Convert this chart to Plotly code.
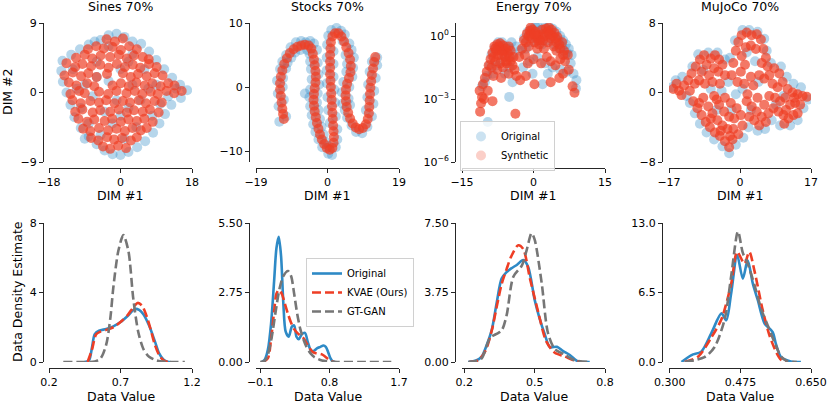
import plotly.graph_objects as go

BLUE = "#2E8AC6"
RED = "#EE3E25"
GRAY = "#767676"
FONT = "DejaVu Sans"
W, H = 830, 404

# ---------------- top row: 2-D embeddings ----------------
sines_orig = [(-5.0, 6.8), (-3.0, 7.4), (-1.0, 7.6), (1.0, 7.2), (3.0, 6.6), (5.2, 6.3), (7.2, 5.3), (9.0, 4.2),
              (11.0, 3.0), (13.0, 1.9), (15.0, 1.0), (16.8, 0.3), (15.2, -0.7), (12.8, -1.6), (11.2, -2.8),
              (9.8, -4.0), (8.2, -5.2), (6.2, -6.3), (4.2, -7.1), (2.0, -7.7), (0.0, -8.1), (-2.0, -8.0),
              (-4.0, -7.5), (-6.0, -6.7), (-8.0, -5.7), (-10.0, -4.6), (-11.6, -3.2), (-12.6, -1.6),
              (-13.6, 0.0), (-14.5, 1.4), (-14.9, 2.8), (-14.6, 4.1), (-12.4, 4.9), (-10.2, 5.6), (-8.0, 6.2),
              (-6.5, 6.6), (-12, 3), (-9, 1), (-6, 4), (-3, 1.5), (0, 3), (3, 5), (6, 3), (9, 1), (12, -0.5),
              (-10, -2), (-7, -0.5), (-4, -2.5), (-1, -1), (2, -2), (5, -1), (8, -3), (-8, -4), (-5, -5.5),
              (-2, -4), (1, -6), (4, -4.5), (-11, 0.5), (-3, 6), (2, 4), (7, 0.5), (10, -1.5), (-6, 2),
              (0, -3), (3, 1), (-9, -6), (14, 0.5)]
sines_syn = [(-3.5, 6.9), (-1.4, 6.6), (0.6, 7.0),
             (-8.2, 5.6), (-6.1, 6.0), (-4.2, 5.7), (-2.0, 5.9), (0.1, 5.5), (2.2, 6.0), (4.1, 5.6),
             (-11.2, 4.5), (-9.0, 4.9), (-7.1, 4.4), (-5.0, 4.8), (-2.6, 4.6), (-0.4, 4.9), (1.6, 4.4),
             (3.4, 4.8), (5.6, 4.6), (7.1, 4.3),
             (-13.6, 3.8), (-11.4, 3.3), (-9.6, 3.7), (-7.4, 3.4), (-5.1, 3.6), (-3.0, 3.2), (-0.9, 3.7),
             (1.1, 3.3), (3.1, 3.6), (5.0, 3.2), (7.2, 3.7), (9.1, 3.3),
             (-14.1, 2.2), (-12.0, 2.6), (-9.9, 2.1), (-8.1, 2.5), (-6.0, 2.0), (-3.4, 2.4), (0.6, 2.5),
             (2.6, 2.0), (4.4, 2.4), (6.6, 2.1), (8.6, 2.5), (10.6, 2.2),
             (-13.0, 1.3), (-11.1, 0.9), (-8.4, 1.2), (-6.6, 0.8), (-2.0, 0.9), (0.1, 1.2), (2.1, 0.8),
             (4.0, 1.3), (6.1, 0.9), (8.0, 1.2), (10.1, 0.8), (12.0, 1.2), (13.6, 0.9),
             (-12.6, -0.2), (-10.4, 0.2), (-9.0, -0.1), (-5.4, 0.1), (-3.1, -0.2), (-1.0, 0.2), (1.5, -0.1),
             (3.6, 0.2), (5.5, -0.2), (7.6, 0.1), (9.4, -0.2), (11.6, 0.2), (13.5, -0.1), (15.4, 0.2),
             (-12.1, -1.0), (-10.0, -1.4), (-7.6, -1.1), (-5.4, -1.3), (-3.6, -1.0), (-1.5, -1.4), (0.6, -1.1),
             (2.4, -1.3), (4.6, -1.0), (6.4, -1.4), (8.6, -1.1), (10.4, -1.3),
             (-11.4, -2.5), (-9.6, -2.2), (-7.0, -2.6), (-5.1, -2.3), (-2.6, -2.5), (-0.4, -2.2), (1.6, -2.6),
             (3.4, -2.3), (5.6, -2.5), (7.4, -2.2), (9.6, -2.6),
             (-10.6, -3.4), (-8.4, -3.8), (-6.6, -3.5), (-4.0, -3.7), (-2.1, -3.4), (0.1, -3.8), (2.0, -3.5),
             (4.1, -3.7), (6.0, -3.4), (8.1, -3.8),
             (-9.4, -4.7), (-7.6, -5.0), (-5.4, -4.6), (-3.1, -4.9), (-1.0, -4.7), (1.1, -5.0), (3.0, -4.6),
             (5.1, -4.9), (6.6, -4.6),
             (-7.4, -5.9), (-5.6, -6.2), (-3.4, -5.8), (-1.6, -6.1), (0.4, -5.9), (2.6, -6.2), (4.1, -5.8),
             (-4.4, -7.0), (-2.6, -7.3), (-0.6, -6.9), (1.4, -7.2)]

stocks_orig = [(-12.8, -5.4), (-11.0, -4.6), (-13.0, -3.0), (-11.6, -2.0), (-13.2, -1.0), (-11.9, 0.0),
               (-13.4, 1.0), (-11.8, 1.4), (-12.6, 2.8), (-11.0, 2.9), (-12.0, 4.0), (-10.6, 3.8), (-11.0, 5.0),
               (-9.6, 4.6), (-9.8, 6.2), (-8.6, 5.4), (-8.4, 7.0), (-7.2, 5.8), (-7.0, 7.2), (-5.8, 7.0),
               (-5.4, 5.8), (-4.6, 7.2), (-3.6, 6.8), (-4.8, 5.2), (-2.8, 5.8),
               (-4.6, 4.0), (-2.6, 3.8), (-4.4, 2.8), (-2.4, 2.0), (-4.2, 1.2), (-2.2, 0.4), (-4.6, -0.4),
               (-2.6, -1.0), (-4.8, -1.6), (-6.0, -1.0), (-2.8, -2.4), (-4.6, -3.0), (-2.4, -3.6), (-4.2, -4.4),
               (-2.0, -5.0), (-3.8, -5.8), (-1.6, -6.2), (-3.2, -7.0), (-1.0, -7.4), (-2.4, -8.2), (-0.4, -8.6),
               (-1.4, -9.4), (0.4, -9.2), (0.2, -10.4), (1.2, -10.6), (2.2, -9.4), (2.6, -8.2),
               (2.6, -6.6), (0.6, -5.6), (2.2, -4.6), (0.2, -3.6), (2.0, -2.4), (0.0, -1.6), (1.8, -0.4),
               (-0.2, 0.6), (1.6, 1.6), (-0.2, 2.6), (1.6, 3.6), (-0.2, 4.6), (1.6, 5.6), (-0.1, 6.6),
               (0.2, 8.0), (1.0, 8.9), (2.4, 9.2), (3.6, 8.8), (4.6, 8.2), (4.0, 7.2),
               (5.8, 6.8), (6.4, 5.8), (4.8, 5.0), (7.0, 4.6), (5.2, 3.6), (6.8, 3.0), (5.0, 2.4), (6.6, 1.6),
               (4.2, 0.8), (5.8, 0.0), (3.8, -0.8), (5.6, -1.8), (4.0, -2.6), (6.0, -2.8), (4.6, -3.6),
               (5.2, -4.8), (6.4, -6.0), (7.6, -7.0), (9.2, -7.2), (10.6, -6.2), (11.8, -4.6), (10.2, -3.6),
               (12.2, -2.6), (10.6, -1.6), (12.4, -0.6), (10.8, 0.4), (12.8, 1.4), (11.2, 2.4), (13.2, 3.4),
               (11.8, 4.0), (13.2, 4.6)]
stocks_syn = [(-11.6, -5.0), (-11.8, -4.2), (-12.0, -3.4), (-12.2, -2.4), (-12.4, -1.4), (-12.6, -0.4),
              (-12.6, 0.6), (-12.4, 1.6), (-12.0, 2.6), (-11.5, 3.6), (-10.8, 4.5), (-10.0, 5.3), (-9.0, 5.9),
              (-8.0, 6.3), (-7.0, 6.5), (-6.0, 6.6), (-5.0, 6.5), (-4.3, 6.0), (-3.9, 5.2),
              (-3.6, 4.3), (-3.4, 3.4), (-3.2, 2.5), (-3.1, 1.6), (-3.2, 0.7), (-3.4, -0.2), (-3.6, -1.1),
              (-3.7, -2.0), (-3.6, -2.9), (-3.4, -3.8), (-3.1, -4.7), (-2.8, -5.6), (-2.4, -6.5), (-2.0, -7.4),
              (-1.5, -8.2), (-0.9, -8.9), (-0.2, -9.5), (0.6, -9.8), (1.3, -9.5),
              (1.6, -8.7), (1.7, -7.8), (1.6, -6.9), (1.5, -6.0), (1.4, -5.0), (1.3, -4.0), (1.2, -3.0),
              (1.1, -2.0), (1.0, -1.0), (0.9, 0.0), (0.8, 1.0), (0.7, 2.0), (0.7, 3.0), (0.7, 4.0), (0.7, 5.0),
              (0.8, 6.0), (0.9, 7.0), (1.3, 7.9), (2.0, 8.4), (2.9, 8.4), (3.7, 7.9),
              (4.4, 7.1), (5.0, 6.2), (5.6, 5.3), (6.0, 4.3), (6.2, 3.3), (6.1, 2.3), (5.7, 1.4), (5.2, 0.5),
              (4.9, -0.4), (4.8, -1.3), (4.9, -2.2), (5.1, -3.1), (5.5, -4.0), (6.0, -4.9), (6.7, -5.7),
              (7.5, -6.3), (8.4, -6.6), (9.4, -6.4), (10.2, -5.8), (10.7, -5.0), (11.0, -4.1), (11.1, -3.1),
              (11.2, -2.1), (11.3, -1.1), (11.4, -0.1), (11.6, 0.9), (11.8, 1.9), (12.1, 2.9), (12.4, 3.9),
              (12.7, 4.7)]

energy_orig = [(-10.8, 4e-3), (-10.2, 6.3e-3), (-9.6, 8e-5), (-9.8, 0.0126), (-9.2, 0.04), (-8.8, 0.126),
               (-8.2, 0.25), (-7.4, 0.5), (-6.6, 0.5), (-5.8, 0.32), (-5.0, 0.25), (-4.4, 0.126), (-8.6, 0.016),
               (-7.8, 0.04), (-6.8, 0.063), (-6.0, 0.016), (-5.0, 0.032), (-4.4, 6.3e-3), (-5.1, 1.26e-3),
               (-2.8, 0.2), (-2.0, 0.79), (-1.2, 1.58), (-0.4, 2.24), (0.4, 2.82), (0.9, 3.16), (1.6, 2.0),
               (2.4, 2.51), (3.2, 2.82), (4.0, 2.24), (4.8, 1.58), (5.6, 1.0), (6.2, 0.63), (6.8, 0.4),
               (7.4, 0.25), (8.0, 0.126), (-1.6, 0.25), (-0.6, 0.5), (0.6, 0.79), (1.8, 0.4), (3.0, 0.63),
               (4.2, 0.4), (5.4, 0.25), (6.6, 0.126), (7.8, 0.05), (8.4, 0.016), (9.0, 7.9e-3), (-2.2, 0.032),
               (-0.8, 0.063), (0.8, 0.1), (2.4, 0.05), (4.0, 0.032), (5.6, 0.025), (1.9, 5e-3), (-0.2, 0.016),
               (3.0, 0.016), (8.9, 3.2e-3), (7.0, 0.02), (-7.0, 0.25), (-6.2, 0.126), (-4.6, 0.5), (-3.6, 0.32),
               (2.0, 1.26), (3.6, 1.58), (5.2, 0.63), (6.0, 0.32), (7.0, 0.16)]
energy_syn = [(-11.2, 2.5e-4), (-11.0, 6.3e-4), (-10.8, 1.26e-3), (-11.3, 2.5e-3), (-10.6, 5e-3), (-10.2, 0.01),
              (-9.8, 0.02), (-9.4, 0.04), (-10.4, 1e-3), (-9.0, 0.079), (-8.6, 0.16), (-8.2, 0.32), (-7.6, 0.4),
              (-7.0, 0.45), (-6.4, 0.35), (-5.8, 0.25), (-8.8, 0.032), (-8.0, 0.063), (-7.4, 0.126), (-6.8, 0.2),
              (-6.0, 0.1), (-5.4, 0.16), (-4.8, 0.2), (-8.4, 0.0126), (-7.6, 0.025), (-7.0, 0.05), (-6.4, 0.032),
              (-5.6, 0.05), (-4.8, 0.063), (-4.2, 0.1), (-6.8, 0.01), (-5.2, 0.016), (-4.0, 0.025), (-3.6, 0.0126),
              (-9.6, 2.5e-3), (-8.6, 7.9e-4), (-3.8, 2e-4), (-3.0, 0.1), (-2.4, 0.25), (-2.0, 0.63), (-1.4, 1.26),
              (-0.8, 1.78), (-0.2, 2.0), (0.4, 1.58), (1.0, 1.12), (-1.8, 0.126), (-1.0, 0.32), (-0.4, 0.79),
              (0.2, 0.5), (0.8, 0.25), (1.4, 0.63), (2.0, 1.26), (2.6, 2.24), (3.2, 2.51), (3.8, 2.0), (4.4, 1.41),
              (5.0, 0.89), (2.2, 0.25), (3.0, 0.5), (3.6, 0.79), (4.2, 0.32), (4.8, 0.2), (5.4, 0.4), (6.0, 0.5),
              (6.4, 0.2), (-1.2, 0.05), (0.0, 0.079), (1.6, 0.05), (2.8, 0.1), (3.6, 0.063), (4.6, 0.04),
              (5.6, 0.079), (6.6, 0.063), (7.2, 0.126), (7.4, 0.025), (6.2, 0.016), (0.2, 5e-3), (-2.8, 7.9e-3),
              (-1.6, 0.0126), (8.2, 4e-3), (8.6, 2e-3), (3.6, 6.3e-3), (5.4, 0.01), (-0.6, 2.51), (1.8, 2.0),
              (-8.0, 0.25), (-7.2, 0.32), (-6.2, 0.2), (-5.2, 0.32), (-8.4, 0.1), (-7.8, 0.2), (-6.6, 0.126),
              (-5.8, 0.063), (-5.0, 0.1), (-4.4, 0.04), (-1.6, 0.5), (-0.6, 1.26), (0.6, 1.0), (1.2, 0.4),
              (2.4, 1.0), (3.0, 1.58), (4.0, 1.0), (4.8, 0.5), (5.6, 0.25), (6.2, 0.126), (1.0, 0.63), (2.0, 0.63),
              (-1.0, 1.0), (0.2, 1.26), (3.4, 1.26), (4.6, 0.79)]

mujoco_orig = [(-16.4, 0.6), (-15.4, 1.4), (-13.8, 1.8), (-12.8, -0.4), (-11.4, 3.0), (-10.0, 4.4), (-7.6, 4.6),
               (-5.4, 4.6), (-3.6, 3.8), (-2.8, 1.2), (-2.4, 4.0), (-1.2, 6.0), (0.6, 7.2), (2.2, 7.2), (4.2, 7.0),
               (5.8, 6.2), (6.4, 4.8), (7.4, 3.4), (9.8, 3.0), (11.2, 1.8), (12.8, 1.0), (14.6, 0.6), (16.4, -0.8),
               (15.2, -1.8), (13.8, -3.2), (12.0, -3.8), (9.6, -3.8), (7.6, -3.2), (6.0, -4.2), (4.2, -4.4),
               (2.0, -4.0), (0.8, -5.2), (-1.0, -6.0), (-2.6, -7.0), (-4.2, -6.2), (-6.2, -5.4), (-8.0, -4.6),
               (-9.6, -3.6), (-10.8, -2.4), (-12.0, -1.2), (-4.4, 0.2), (-1.0, -0.2), (0.6, 0.4), (3.6, 3.6),
               (8.6, -1.4), (-7.0, 0.4), (2.6, -2.0), (-5.6, -2.0), (-2.0, -2.0), (10.4, -0.4), (-8.8, 2.6),
               (1.6, 4.6), (4.4, 1.2)]
mujoco_syn = [(-16.0, 0.4), (-14.6, 0.2), (-15.2, 1.0), (-13.4, 0.8), (-14.0, -0.3), (-12.4, 1.4), (-12.0, 0.2),
              (-10.8, 1.0), (-11.6, 2.2), (-10.6, 3.0), (-9.6, 3.8), (-8.6, 4.3), (-9.2, 2.4), (-8.0, 3.2),
              (-7.0, 3.9), (-6.0, 4.3), (-5.0, 3.8), (-7.4, 2.0), (-6.2, 2.8), (-5.2, 2.4), (-4.2, 3.2),
              (-3.6, 2.0), (-9.8, 1.4), (-8.4, 1.0), (-6.6, 1.2), (-4.8, 1.0), (-2.0, 2.0), (-1.6, 3.4),
              (-1.0, 4.8), (-0.4, 5.8), (0.4, 6.6), (1.6, 6.9), (2.8, 6.6), (4.0, 6.7), (5.0, 6.1), (5.6, 5.0),
              (6.2, 4.0), (6.6, 3.0), (7.0, 2.0), (0.4, 4.2), (1.4, 5.2), (2.6, 5.4), (3.8, 5.0), (0.2, 2.4),
              (1.2, 3.2), (5.2, 3.4), (4.6, 2.0), (5.8, 1.6), (-0.6, 1.2), (1.0, 1.0), (2.6, 1.8), (3.2, 0.8),
              (8.2, 2.8), (9.4, 2.2), (7.8, 1.0), (9.0, 0.6), (10.2, 1.2), (11.4, 0.4), (12.6, 0.0), (13.8, -0.2),
              (15.0, -0.4), (16.0, -0.5), (8.4, -0.6), (9.6, -1.0), (10.8, -0.6), (12.0, -1.4), (13.2, -1.2),
              (14.4, -1.4), (9.2, -2.2), (10.4, -2.6), (11.6, -3.0), (12.8, -2.6), (13.8, -2.4), (10.6, -3.6),
              (8.0, -1.8), (7.0, -0.4), (-11.2, -1.0), (-10.2, -1.8), (-9.2, -2.6), (-8.2, -3.4), (-7.2, -4.0),
              (-6.0, -4.6), (-4.8, -5.0), (-3.6, -5.6), (-2.6, -6.3), (-1.8, -5.4), (-1.6, -4.2), (-8.8, -0.6),
              (-7.6, -1.6), (-6.6, -2.4), (-5.4, -3.2), (-4.2, -3.8), (-3.0, -4.2), (-6.2, -0.4), (-5.0, -1.4),
              (-3.8, -2.2), (-2.6, -2.8), (-1.4, -3.0), (-3.6, -0.6), (-2.2, -1.2), (-0.8, -1.8), (0.2, -2.6),
              (0.6, -3.8), (-0.4, -4.8), (1.6, -1.0), (2.8, -1.6), (4.0, -2.2), (5.2, -2.8), (6.2, -3.4),
              (2.2, -2.8), (3.4, -3.2), (4.6, -3.8), (5.8, -1.4), (4.2, -0.6), (1.8, -0.2), (6.8, -2.4),
              (-7.0, -3.0), (-4.6, -4.4), (-9.8, -1.2), (-2.4, -5.0), (-5.6, -0.8), (11.0, -2.0), (13.0, -0.6)]

# ---------------- bottom row: density estimates ----------------
sines_kde_orig_x = [0.45, 0.48, 0.50, 0.52, 0.55, 0.60, 0.65, 0.70, 0.75, 0.80, 0.83, 0.86, 0.90, 0.94, 0.97, 1.00, 1.03, 1.05]
sines_kde_orig_y = [0.0, 0.1, 0.8, 1.6, 1.8, 1.9, 2.05, 2.3, 2.65, 3.05, 3.0, 2.75, 2.1, 1.2, 0.5, 0.15, 0.02, 0.0]
sines_kde_kvae_x = [0.47, 0.50, 0.53, 0.56, 0.60, 0.65, 0.70, 0.75, 0.79, 0.82, 0.85, 0.88, 0.91, 0.94, 0.97, 1.00, 1.03]
sines_kde_kvae_y = [0.0, 0.7, 1.6, 1.75, 1.85, 2.0, 2.3, 2.7, 3.15, 3.4, 3.25, 2.7, 1.9, 1.0, 0.4, 0.1, 0.0]
sines_kde_gan_x = [0.30, 0.45, 0.52, 0.56, 0.60, 0.63, 0.65, 0.685, 0.72, 0.755, 0.79, 0.825, 0.86, 0.90, 0.95, 1.00, 1.05, 1.15]
sines_kde_gan_y = [0.0, 0.0, 0.03, 0.2, 1.0, 2.6, 4.3, 6.4, 7.3, 6.4, 3.6, 1.7, 0.75, 0.3, 0.1, 0.02, 0.0, 0.0]

stocks_kde_orig_x = [-0.08, -0.04, 0.0, 0.04, 0.08, 0.11, 0.14, 0.17, 0.20, 0.23, 0.27, 0.31, 0.34, 0.37, 0.40,
                     0.44, 0.48, 0.52, 0.56, 0.60, 0.64, 0.68, 0.72, 0.75, 0.78, 0.81, 0.84, 0.87]
stocks_kde_orig_y = [0.0, 0.1, 0.5, 1.5, 3.2, 4.5, 4.95, 4.2, 2.3, 1.2, 1.0, 1.4, 1.45, 1.0, 0.9,
                     1.1, 1.15, 0.75, 0.45, 0.45, 0.55, 0.6, 0.65, 0.6, 0.4, 0.15, 0.03, 0.0]
stocks_kde_kvae_x = [-0.06, 0.0, 0.04, 0.08, 0.11, 0.14, 0.18, 0.22, 0.26, 0.30, 0.34, 0.38, 0.42, 0.46, 0.50,
                     0.54, 0.58, 0.62, 0.66, 0.70, 0.74, 0.78, 0.82, 0.86]
stocks_kde_kvae_y = [0.0, 0.15, 0.9, 2.0, 2.7, 2.85, 2.7, 2.3, 1.9, 1.55, 1.3, 1.15, 1.05, 0.95, 0.75,
                     0.55, 0.4, 0.35, 0.33, 0.3, 0.22, 0.12, 0.04, 0.0]
stocks_kde_gan_x = [-0.10, -0.04, 0.0, 0.05, 0.10, 0.15, 0.20, 0.26, 0.30, 0.34, 0.38, 0.42, 0.46, 0.50, 0.55,
                    0.60, 0.65, 0.70, 0.80, 0.90, 1.20, 1.60]
stocks_kde_gan_y = [0.0, 0.05, 0.3, 1.0, 2.0, 2.9, 3.4, 3.6, 3.4, 2.7, 1.9, 1.3, 0.9, 0.6, 0.35,
                    0.2, 0.12, 0.06, 0.02, 0.0, 0.0, 0.0]

energy_kde_orig_x = [0.217, 0.25, 0.274, 0.295, 0.317, 0.338, 0.359, 0.38, 0.40, 0.425, 0.451, 0.472, 0.50, 0.52,
                     0.543, 0.565, 0.595, 0.62, 0.65, 0.685, 0.735]
energy_kde_orig_y = [0.0, 0.08, 0.29, 0.9, 1.73, 3.2, 4.5, 4.85, 5.05, 5.25, 5.5, 5.14, 3.35, 2.4,
                     1.5, 0.8, 0.82, 0.6, 0.38, 0.03, 0.0]
energy_kde_kvae_x = [0.22, 0.26, 0.29, 0.317, 0.34, 0.359, 0.38, 0.40, 0.43, 0.451, 0.48, 0.515, 0.55, 0.586,
                     0.628, 0.67, 0.70]
energy_kde_kvae_y = [0.0, 0.1, 0.6, 1.7, 3.1, 4.2, 5.0, 5.7, 6.3, 6.1, 4.5, 2.7, 1.1, 0.5, 0.3, 0.08, 0.0]
energy_kde_gan_x = [0.217, 0.25, 0.274, 0.31, 0.335, 0.359, 0.38, 0.409, 0.445, 0.465, 0.487, 0.50, 0.53, 0.557,
                    0.586, 0.628, 0.67, 0.735]
energy_kde_gan_y = [0.0, 0.05, 0.2, 1.3, 1.5, 1.7, 2.5, 4.6, 5.2, 6.0, 6.95, 6.6, 4.25, 1.55, 0.7, 0.4, 0.1, 0.0]

mujoco_kde_orig_x = [0.329, 0.354, 0.378, 0.403, 0.428, 0.44, 0.452, 0.467, 0.481, 0.493, 0.506, 0.518, 0.535,
                     0.555, 0.563, 0.576, 0.60, 0.625]
mujoco_kde_orig_y = [0.0, 0.65, 0.97, 2.7, 4.55, 3.9, 6.4, 10.0, 7.8, 9.5, 7.3, 5.8, 3.6, 2.8, 1.7, 0.45, 0.05, 0.0]
mujoco_kde_kvae_x = [0.337, 0.37, 0.403, 0.428, 0.452, 0.467, 0.485, 0.497, 0.51, 0.53, 0.547, 0.564, 0.576, 0.59]
mujoco_kde_kvae_y = [0.0, 0.5, 2.3, 4.0, 7.3, 10.3, 9.2, 10.3, 8.5, 4.9, 2.5, 0.9, 0.2, 0.0]
mujoco_kde_gan_x = [0.337, 0.386, 0.411, 0.436, 0.452, 0.469, 0.481, 0.493, 0.51, 0.527, 0.543, 0.56, 0.576, 0.59, 0.615]
mujoco_kde_gan_y = [0.0, 0.45, 1.4, 4.0, 8.0, 12.2, 10.2, 9.2, 7.2, 4.9, 3.4, 1.8, 0.5, 0.1, 0.0]

titles = ["Sines 70%", "Stocks 70%", "Energy 70%", "MuJoCo 70%"]

top_x = [dict(range=[-18, 18], tickvals=[-18, 0, 18]),
         dict(range=[-19, 19], tickvals=[-19, 0, 19]),
         dict(range=[-15, 15], tickvals=[-15, 0, 15]),
         dict(range=[-17, 17], tickvals=[-17, 0, 17])]
top_y = [dict(range=[-9, 9], tickvals=[-9, 0, 9]),
         dict(range=[-11.7, 10], tickvals=[-10, 0, 10]),
         dict(type="log", range=[-6, 0.62], tickvals=[1e-6, 1e-3, 1],
              ticktext=["10<sup>\u22126</sup>", "10<sup>\u22123</sup>", "10<sup>0</sup>"]),
         dict(range=[-8, 8], tickvals=[-8, 0, 8])]
bot_x = [dict(range=[0.2, 1.2], tickvals=[0.2, 0.7, 1.2], tickformat=".1f"),
         dict(range=[-0.155, 1.7], tickvals=[-0.1, 0.8, 1.7], tickformat=".1f"),
         dict(range=[0.19, 0.8], tickvals=[0.2, 0.5, 0.8], tickformat=".1f"),
         dict(range=[0.298, 0.65], tickvals=[0.3, 0.475, 0.65], tickformat=".3f")]
bot_y = [dict(range=[0, 8], tickvals=[0, 4, 8]),
         dict(range=[0, 5.5], tickvals=[0, 2.75, 5.5], tickformat=".2f"),
         dict(range=[0, 7.5], tickvals=[0, 3.75, 7.5], tickformat=".2f"),
         dict(range=[0, 13], tickvals=[0, 6.5, 13], tickformat=".1f")]

# pixel geometry of the panels
col_px = [(49, 192), (256, 399), (462, 605), (669, 811)]
yline_px = [43, 249, 455, 662]
rows_px = [((23, 162), 168), ((223, 362), 368)]

fig = go.Figure()

scatters = [(sines_orig, sines_syn), (stocks_orig, stocks_syn), (energy_orig, energy_syn), (mujoco_orig, mujoco_syn)]
for i, (orig, syn) in enumerate(scatters):
    ax = "" if i == 0 else str(i + 1)
    for pts, name, col, op in [(orig, "Original", BLUE, 0.35), (syn, "Synthetic", RED, 0.7)]:
        fig.add_trace(go.Scatter(
            x=[p[0] for p in pts], y=[p[1] for p in pts], mode="markers", name=name,
            marker=dict(size=10, color=col, opacity=op, line=dict(width=0)),
            xaxis="x" + ax, yaxis="y" + ax, showlegend=False))

# legend keys for the scatter panels (lighter, like single points)
for name, col in [("Original", BLUE), ("Synthetic", RED)]:
    fig.add_trace(go.Scatter(x=[None], y=[None], mode="markers", name=name,
                             marker=dict(size=10, color=col, opacity=0.25, line=dict(width=0)),
                             xaxis="x3", yaxis="y3", showlegend=True, legend="legend"))

kdes = [
    (sines_kde_orig_x, sines_kde_orig_y, sines_kde_kvae_x, sines_kde_kvae_y, sines_kde_gan_x, sines_kde_gan_y),
    (stocks_kde_orig_x, stocks_kde_orig_y, stocks_kde_kvae_x, stocks_kde_kvae_y, stocks_kde_gan_x, stocks_kde_gan_y),
    (energy_kde_orig_x, energy_kde_orig_y, energy_kde_kvae_x, energy_kde_kvae_y, energy_kde_gan_x, energy_kde_gan_y),
    (mujoco_kde_orig_x, mujoco_kde_orig_y, mujoco_kde_kvae_x, mujoco_kde_kvae_y, mujoco_kde_gan_x, mujoco_kde_gan_y),
]
for i, (ox, oy, kx, ky, gx, gy) in enumerate(kdes):
    ax = str(i + 5)
    for xs, ys, name, col, dash in [(ox, oy, "Original", BLUE, "solid"),
                                    (kx, ky, "KVAE (Ours)", RED, "9px,4px"),
                                    (gx, gy, "GT-GAN", GRAY, "9px,4px")]:
        fig.add_trace(go.Scatter(
            x=xs, y=ys, mode="lines", name=name,
            line=dict(color=col, width=2.6, dash=dash, shape="spline", smoothing=0.8),
            xaxis="x" + ax, yaxis="y" + ax, showlegend=(i == 1), legend="legend2"))

tick_font = dict(family=FONT, size=11, color="#000000")
axis_common = dict(showline=True, linecolor="#262626", linewidth=1, ticks="outside", ticklen=4,
                   tickwidth=1, tickcolor="#262626", showgrid=False, zeroline=False,
                   tickfont=tick_font, automargin=False, fixedrange=True)

layout = {}
for r, ((y0, y1), xline) in enumerate(rows_px):
    xs_spec = top_x if r == 0 else bot_x
    ys_spec = top_y if r == 0 else bot_y
    for c in range(4):
        n = r * 4 + c + 1
        key = "" if n == 1 else str(n)
        xd = dict(axis_common, domain=[col_px[c][0] / W, col_px[c][1] / W], anchor="free",
                  position=1 - xline / H, **xs_spec[c])
        yd = dict(axis_common, domain=[1 - y1 / H, 1 - y0 / H], anchor="free",
                  position=yline_px[c] / W, **ys_spec[c])
        layout["xaxis" + key] = xd
        layout["yaxis" + key] = yd

annotations = []
for c in range(4):
    cx = (col_px[c][0] + col_px[c][1]) / 2 / W
    annotations.append(dict(text=titles[c], x=cx, y=1 - 6 / H, xref="paper", yref="paper",
                            showarrow=False, xanchor="center", yanchor="middle",
                            font=dict(family=FONT, size=12.5, color="#000")))
    annotations.append(dict(text="DIM #1", x=cx, y=1 - 195 / H, xref="paper", yref="paper",
                            showarrow=False, xanchor="center", yanchor="middle",
                            font=dict(family=FONT, size=12.5, color="#000")))
    annotations.append(dict(text="Data Value", x=cx, y=1 - 396 / H, xref="paper", yref="paper",
                            showarrow=False, xanchor="center", yanchor="middle",
                            font=dict(family=FONT, size=12.5, color="#000")))
annotations.append(dict(text="DIM #2", x=8 / W, y=1 - 92 / H, xref="paper", yref="paper", textangle=-90,
                        showarrow=False, xanchor="center", yanchor="middle",
                        font=dict(family=FONT, size=12.5, color="#000")))
annotations.append(dict(text="Data Density Estimate", x=17 / W, y=1 - 292 / H, xref="paper", yref="paper",
                        textangle=-90, showarrow=False, xanchor="center", yanchor="middle",
                        font=dict(family=FONT, size=12.5, color="#000")))

legend_common = dict(xanchor="left", yanchor="top", bordercolor="#d0d0d0", borderwidth=1,
                     bgcolor="rgba(255,255,255,0.8)", font=dict(family=FONT, size=10, color="#000"),
                     itemwidth=30, tracegroupgap=0)

fig.update_layout(
    width=W, height=H,
    margin=dict(l=0, r=0, t=0, b=0),
    paper_bgcolor="white", plot_bgcolor="white",
    font=dict(family=FONT, size=11, color="#000"),
    annotations=annotations,
    legend=dict(legend_common, x=460 / W, y=1 - 121 / H),
    legend2=dict(legend_common, x=306 / W, y=1 - 258 / H),
    **layout,
)

# the page's default body margin would push the figure 8px off the window
fig.write_html("out.html", config={"displayModeBar": False},
               post_script="document.body.style.margin='0';")
